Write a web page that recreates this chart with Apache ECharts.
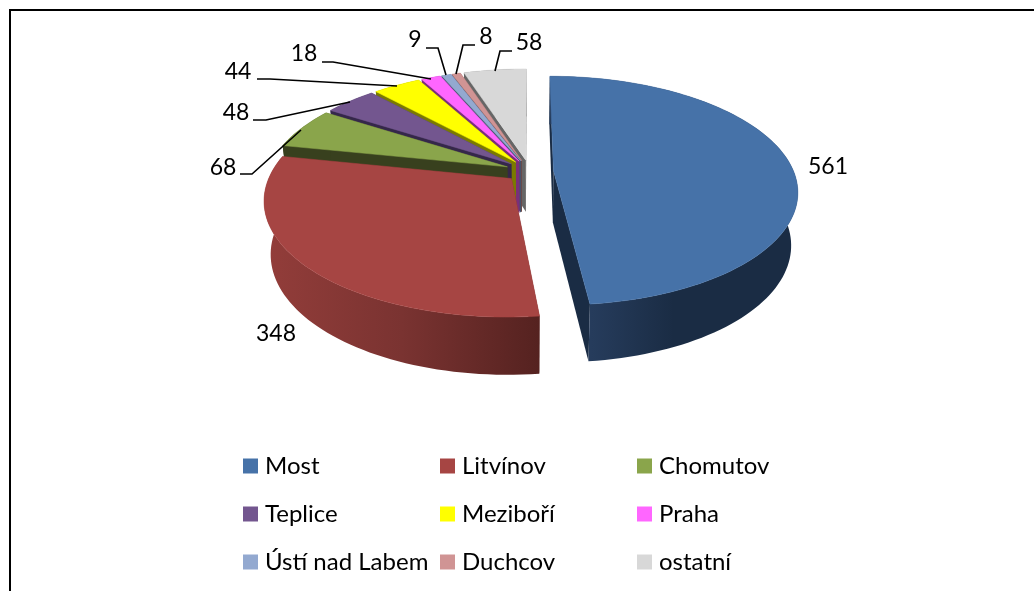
<!DOCTYPE html>
<html>
<head>
<meta charset="utf-8">
<style>
html,body{margin:0;padding:0;background:#fff;}
#main{width:1034px;height:591px;}
</style>
<script src="https://cdn.jsdelivr.net/npm/echarts@6/dist/echarts.min.js"></script>
</head>
<body>
<div id="main"></div>
<script>
var categories = ["Most","Litvínov","Chomutov","Teplice","Meziboří","Praha","Ústí nad Labem","Duchcov","ostatní"];
var values = [561,348,68,48,44,18,9,8,58];
var colors = ["#4672a8","#a64543","#8aa54b","#73568f","#ffff00","#ff66ff","#93a9d0","#d09494","#d8d8d8"];
var wallColors = ["#1a2c44","#5a2522","#38401e","#35274a","#7a7a00","#7a2f7a","#46536c","#6a4a4a","#666666"];

// rucne umistene popisky: text + lomena cara
var labelLayout = [
	{x:828,y:167,line:null},
	{x:276,y:334,line:null},
	{x:223,y:168,line:[[240,174],[252,174],[301,130]]},
	{x:236,y:113,line:[[253,120],[266,120],[350,102]]},
	{x:238,y:72,line:[[257,79],[270,79],[397,86]]},
	{x:304,y:54,line:[[322,62],[333,62],[431,79]]},
	{x:415,y:40,line:[[426,48],[438,48],[446,75]]},
	{x:486,y:37,line:[[475,45],[463,45],[456,74]]},
	{x:529,y:43,line:[[512,51],[500,51],[495,71]]}
];

// perspektiva kolace
var CX = 529.5, CY = 171, RX = 240, RY = 111, PERSP = 0.177, EXPLODE = 0.1, DEPTH = 52, SHRINK = 0.025;
var total = values.reduce(function(a,b){return a+b;},0);

function project(X,Y,z){
	var w = 1 + PERSP*Y;
	return [CX + RX*X/w*(1-SHRINK*z), CY - RY*Y/w + z*DEPTH/Math.sqrt(w)];
}

// plast: vodorovny prechod jen u dvou velkych vysecu
function wallFill(idx){
	if(idx===0){
		return {type:"linear",x:0,y:0,x2:1,y2:0,colorStops:[{offset:0,color:"#263c5c"},{offset:0.17,color:"#263c5c"},{offset:0.5,color:"#1a2c44"},{offset:1,color:"#1a2c44"}]};
	}
	if(idx===1){
		return {type:"linear",x:0,y:0,x2:1,y2:0,colorStops:[{offset:0,color:"#933d3a"},{offset:0.5,color:"#7a3331"},{offset:1,color:"#552220"}]};
	}
	return wallColors[idx];
}

function makeRender(idx){
	return function(params,api){
		var before = 0;
		for(var i=0;i<idx;i++){ before += values[i]; }
		var a0 = before/total*Math.PI*2;
		var a1 = (before+api.value(0))/total*Math.PI*2;
		var mid = (a0+a1)/2;
		var ox = EXPLODE*Math.sin(mid), oy = EXPLODE*Math.cos(mid);
		var apex = [ox,oy];
		var steps = Math.max(4,Math.ceil((a1-a0)/0.03));
		var arc = [];
		for(var s=0;s<=steps;s++){
			var t = a0+(a1-a0)*s/steps;
			arc.push([ox+Math.sin(t),oy+Math.cos(t)]);
		}
		var children = [];
		function quad(p,q,color){
			children.push({type:"polygon",shape:{points:[project(p[0],p[1],0),project(q[0],q[1],0),project(q[0],q[1],1),project(p[0],p[1],1)]},
				style:{fill:color}});
		}
		quad(apex,arc[0],wallColors[idx]);
		quad(apex,arc[arc.length-1],wallColors[idx]);
		// plast jako jeden polygon, at nejsou videt svisle pruhy
		var upper = [], lower = [];
		for(var j=0;j<arc.length;j++){
			upper.push(project(arc[j][0],arc[j][1],0));
			lower.unshift(project(arc[j][0],arc[j][1],1));
		}
		children.push({type:"polygon",shape:{points:upper.concat(lower)},style:{fill:wallFill(idx)}});
		var top = [project(apex[0],apex[1],0)].concat(upper);
		children.push({type:"polygon",shape:{points:top},style:{fill:colors[idx],stroke:colors[idx],lineWidth:0.5}});
		return {type:"group",children:children};
	};
}

// popisky az nakonec, aby byly nad vsemi vysecemi
function makeLabelRender(idx){
	return function(params,api){
		var l = labelLayout[idx], children = [];
		if(l.line){
			children.push({type:"polyline",shape:{points:l.line},style:{stroke:"#000",lineWidth:1.6,fill:null}});
		}
		children.push({type:"text",x:l.x,y:l.y,style:{text:String(api.value(0)),fill:"#000",font:"23px Lato",textAlign:"center",textVerticalAlign:"middle"}});
		return {type:"group",children:children};
	};
}

var series = [];
// zezadu dopredu: ostatni ... Chomutov, Litvinov, Most
var order = [8,7,6,5,4,3,2,1,0];
for(var o=0;o<order.length;o++){
	var i = order[o];
	series.push({name:categories[i],type:"custom",coordinateSystem:"none",silent:true,animation:false,
		itemStyle:{color:colors[i]},data:[[values[i]]],renderItem:makeRender(i),z:2+o});
}
for(var p=0;p<values.length;p++){
	series.push({name:"label"+p,type:"custom",coordinateSystem:"none",silent:true,animation:false,
		data:[[values[p]]],renderItem:makeLabelRender(p),z:20});
}

function legendCol(names,left){
	return {orient:"vertical",left:left,top:449,itemWidth:15,itemHeight:15,itemGap:24,selectedMode:false,icon:"rect",
		data:names,textStyle:{color:"#000",fontFamily:"Lato",fontSize:24,padding:[0,0,0,2]}};
}

var myChart = echarts.init(document.getElementById("main"),null,{renderer:"canvas"});
myChart.setOption({
	backgroundColor:"#fff",
	animation:false,
	legend:[
		legendCol([categories[0],categories[3],categories[6]],238),
		legendCol([categories[1],categories[4],categories[7]],435),
		legendCol([categories[2],categories[5],categories[8]],632)
	],
	graphic:[
		{type:"polyline",z:30,shape:{points:[[10,591],[10,10],[1034,10]]},style:{stroke:"#000",lineWidth:2,fill:null}}
	],
	series:series
});
</script>
</body>
</html>
